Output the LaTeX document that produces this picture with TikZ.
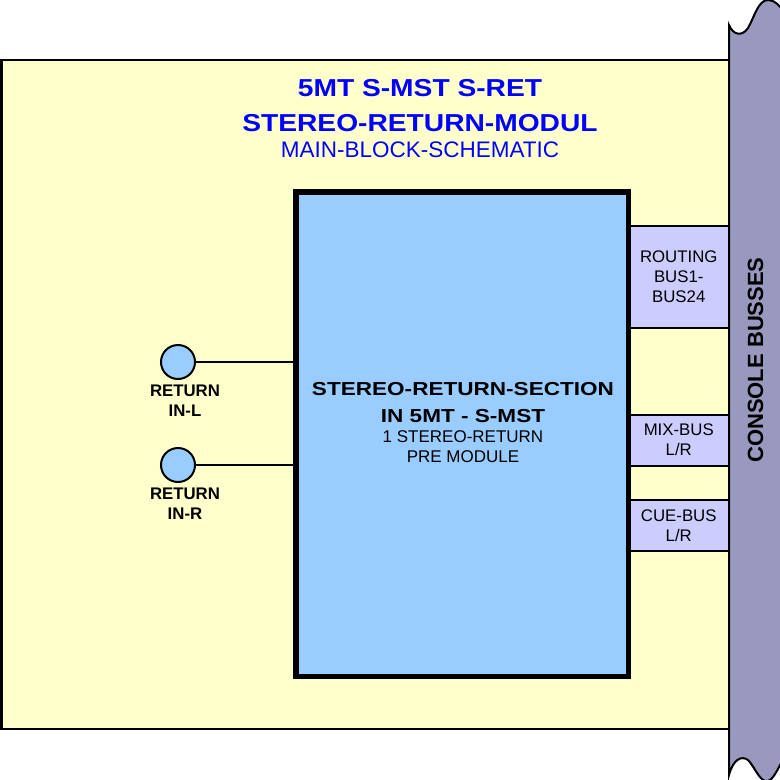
\documentclass[tikz,border=0pt]{standalone}
\usepackage{fontspec}
\setmainfont{Liberation Sans}
\newfontfamily\titlesans[FakeStretch=1.15]{Liberation Sans}
\newfontfamily\widesans[FakeStretch=1.2]{Liberation Sans}
\usetikzlibrary{positioning}
\definecolor{panelyellow}{HTML}{FFFFCC}
\definecolor{blockblue}{HTML}{99CCFF}
\definecolor{buslilac}{HTML}{CCCCFF}
\definecolor{consolegrey}{RGB}{153,153,192}
\definecolor{titleblue}{HTML}{0000FF}
\newcommand{\fsz}[2]{\fontsize{#1}{#2}\selectfont}
\begin{document}
\begin{tikzpicture}[x=1pt, y=-1pt,
 busbox/.style={draw, line width=2pt, fill=buslilac, minimum width=100.5, minimum height=#1, inner sep=0, align=center, font=\fsz{16.8}{20}},
 jack/.style={circle, draw, line width=2pt, fill=blockblue, minimum size=34, inner sep=0},
 jacklabel/.style={inner sep=0, align=center, font=\bfseries\fsz{16.8}{20}},
 wire/.style={line width=1.6pt},
 titleline/.style={anchor=base, inner sep=0, text=titleblue}]
 \useasboundingbox (0,0) rectangle (780,780);
 % panel
 \draw[line width=2.5pt, fill=panelyellow] (1.5,60) rectangle (729,729);
 \node[titleline, font=\titlesans\bfseries\fsz{24.5}{30}] (title1) at (420,96) {5MT S-MST S-RET};
 \node[titleline, font=\titlesans\bfseries\fsz{24.5}{30}] (title2) at (420,131) {STEREO-RETURN-MODUL};
 \node[titleline, font=\fsz{22.5}{26}] (title3) at (420,157) {MAIN-BLOCK-SCHEMATIC};
 % busses
 \foreach \n/\y/\h/\t in {routing/277/102/{ROUTING\\BUS1-\\BUS24}, mix/440/51/{MIX-BUS\\L/R}, cue/525.5/51/{CUE-BUS\\L/R}}
 {
     \node[busbox=\h] (\n) at (678.75,\y) {\t};
 }
 % section
 \node[draw, line width=5.5pt, fill=blockblue, minimum width=332.5, minimum height=484.5] (block) at (462.25,434.25) {};
 \node[inner sep=0, align=center, font=\widesans\bfseries\fsz{18.8}{27}] (sectitle) at (463,402.75) {STEREO-RETURN-SECTION\\IN 5MT - S-MST};
 \node[inner sep=0, align=center, font=\fsz{17}{20}] (secsub) at (463,446.9) {1 STEREO-RETURN\\PRE MODULE};
 % inputs
 \node[jack] (inL) at (178,362) {};
 \node[jack] (inR) at (178,465) {};
 \node[jacklabel, below=5pt of inL, xshift=7pt] (labL) {RETURN\\IN-L};
 \node[jacklabel, below=5pt of inR, xshift=7pt] (labR) {RETURN\\IN-R};
 \draw[wire] (inL) -- (inL -| block.west);
 \draw[wire] (inR) -- (inR -| block.west);
 % console
 \draw[line width=2pt, fill=consolegrey] (729,775) -- (729,25) .. controls (733,35) and (742,37) .. (748,28) .. controls (754,18) and (758,0) .. (768,0) .. controls (775,0) and (780,6) .. (784,12) -- (784,758) .. controls (778,768) and (774,779) .. (768,781) .. controls (760,783) and (755,767) .. (748,760) .. controls (741,755) and (733,760) .. (729,775) -- cycle;
 \node[rotate=90, inner sep=0, font=\bfseries\fsz{22}{24}] (busses) at (755.5,360) {CONSOLE BUSSES};
\end{tikzpicture}
\end{document}
